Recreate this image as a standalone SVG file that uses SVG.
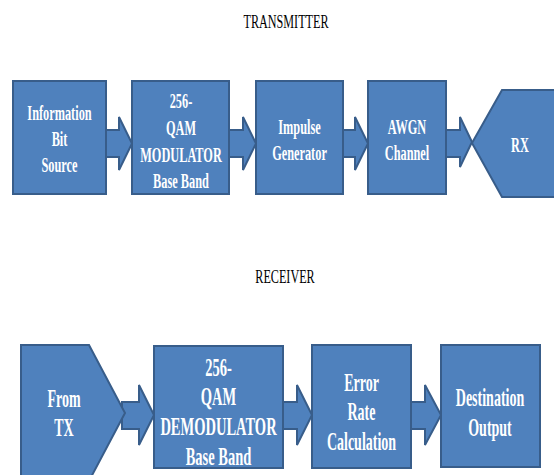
<svg xmlns="http://www.w3.org/2000/svg" width="554" height="475" viewBox="0 0 554 475">
<style>
.shape{fill:#4F81BD;stroke:#385D8A;stroke-width:2}
.arrow{fill:#4F81BD;stroke:#385D8A;stroke-width:2;stroke-linejoin:miter}
.t{fill:#FFFFFF;font-family:"Liberation Serif","Times New Roman","DejaVu Serif",serif;font-weight:bold;text-anchor:middle;font-size:22px}
.b{font-size:25px}
.title{fill:#000000;font-family:"Liberation Serif","Times New Roman","DejaVu Serif",serif;text-anchor:middle;font-size:19px}
</style>
<rect width="554" height="475" fill="#FFFFFF"/>
<text class="title" transform="translate(286,0) scale(0.64,1)" y="28">TRANSMITTER</text>
<text class="title" transform="translate(285,0) scale(0.64,1)" y="283">RECEIVER</text>
<g id="connectors">
<polygon class="arrow" points="106,130 119,130 119,117 132,143.5 119,170 119,157 106,157"/>
<polygon class="arrow" points="229,130 243,130 243,117 256,143.5 243,170 243,157 229,157"/>
<polygon class="arrow" points="343,130 355,130 355,117 368,143.5 355,170 355,157 343,157"/>
<polygon class="arrow" points="446,130 460,130 460,117 472,142 460,167 460,157 446,157"/>
<polygon class="arrow" points="122,402 139,402 139,385 154,415 139,445 139,429 122,429"/>
<polygon class="arrow" points="283,402 297,402 297,385 312,415 297,445 297,429 283,429"/>
<polygon class="arrow" points="411,402 425,402 425,385 441,415 425,445 425,429 411,429"/>
</g>
<g id="info">
<rect class="shape" x="13" y="81" width="93" height="113"/>
<text class="t" transform="translate(59.5,0) scale(0.56,1)" y="120">Information</text>
<text class="t" transform="translate(59.5,0) scale(0.56,1)" y="146">Bit</text>
<text class="t" transform="translate(59.5,0) scale(0.56,1)" y="172">Source</text>
</g>
<g id="mod">
<rect class="shape" x="132" y="81" width="97" height="113"/>
<text class="t" transform="translate(181,0) scale(0.56,1)" y="108">256-</text>
<text class="t" transform="translate(181,0) scale(0.56,1)" y="135">QAM</text>
<text class="t" transform="translate(181,0) scale(0.56,1)" y="162">MODULATOR</text>
<text class="t" transform="translate(181,0) scale(0.56,1)" y="188">Base Band</text>
</g>
<g id="impulse">
<rect class="shape" x="256" y="81" width="87" height="113"/>
<text class="t" transform="translate(299.5,0) scale(0.56,1)" y="134">Impulse</text>
<text class="t" transform="translate(299.5,0) scale(0.56,1)" y="160">Generator</text>
</g>
<g id="awgn">
<rect class="shape" x="368" y="81" width="78" height="113"/>
<text class="t" transform="translate(407,0) scale(0.56,1)" y="134">AWGN</text>
<text class="t" transform="translate(407,0) scale(0.56,1)" y="160">Channel</text>
</g>
<g id="rx">
<polygon class="shape" points="502,90 560,90 560,197 502,197 472,143"/>
<text class="t" transform="translate(520,0) scale(0.56,1)" y="152">RX</text>
</g>
<g id="fromtx">
<polygon class="shape" points="21,345 89,345 125,413 89,481 21,481"/>
<text class="t b" transform="translate(64,0) scale(0.56,1)" y="407">From</text>
<text class="t b" transform="translate(64,0) scale(0.56,1)" y="436">TX</text>
</g>
<g id="demod">
<rect class="shape" x="154" y="346" width="129" height="122"/>
<text class="t b" transform="translate(218.5,0) scale(0.58,1)" y="376">256-</text>
<text class="t b" transform="translate(218.5,0) scale(0.58,1)" y="405">QAM</text>
<text class="t b" transform="translate(218.5,0) scale(0.58,1)" y="435">DEMODULATOR</text>
<text class="t b" transform="translate(218.5,0) scale(0.58,1)" y="465">Base Band</text>
</g>
<g id="error">
<rect class="shape" x="312" y="345" width="99" height="123"/>
<text class="t b" transform="translate(361.5,0) scale(0.56,1)" y="391">Error</text>
<text class="t b" transform="translate(361.5,0) scale(0.56,1)" y="420">Rate</text>
<text class="t b" transform="translate(361.5,0) scale(0.56,1)" y="450">Calculation</text>
</g>
<g id="dest">
<rect class="shape" x="441" y="345" width="99" height="122"/>
<text class="t b" transform="translate(490,0) scale(0.56,1)" y="406">Destination</text>
<text class="t b" transform="translate(490,0) scale(0.56,1)" y="436">Output</text>
</g>
</svg>
